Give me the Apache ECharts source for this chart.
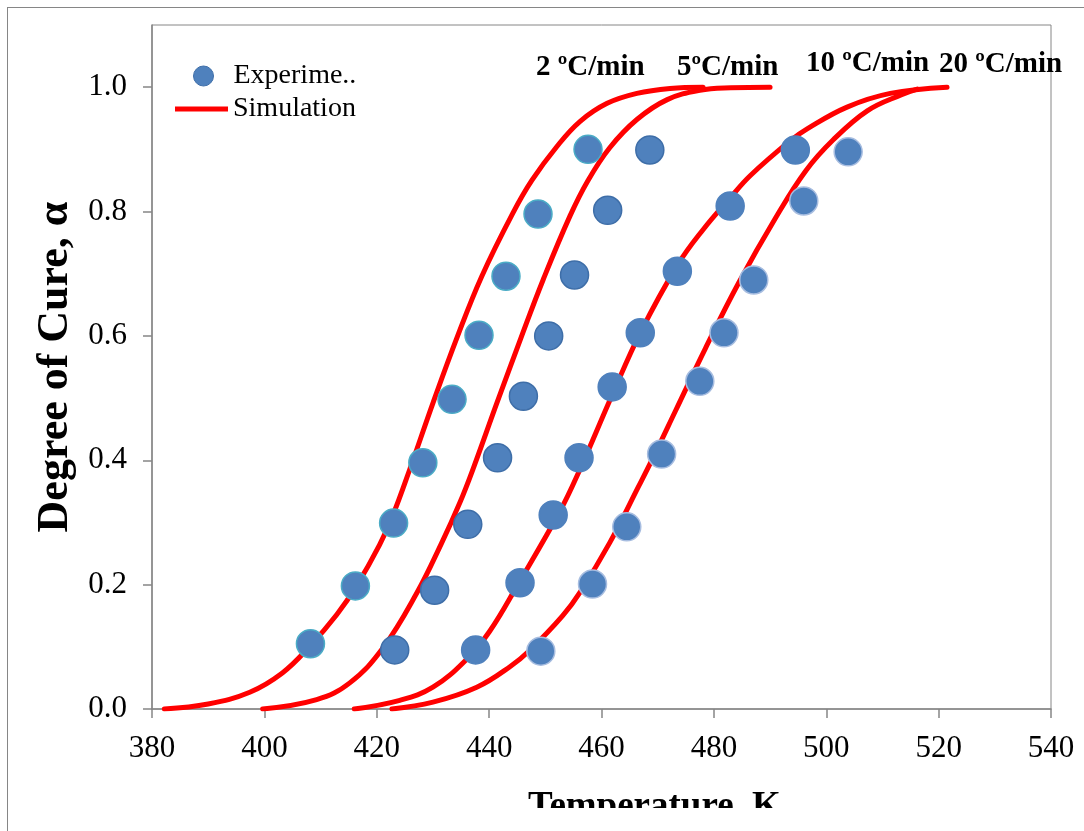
<!DOCTYPE html>
<html>
<head>
<meta charset="utf-8">
<script src="https://cdn.jsdelivr.net/npm/echarts@6/dist/echarts.min.js"></script>
<style>
  html, body { margin: 0; padding: 0; background: #ffffff; }
  #wrap { position: relative; width: 1084px; height: 831px; overflow: hidden; background: #ffffff; }
  #chart { position: absolute; left: 0; top: 0; width: 1084px; height: 808px; }
  #frame { position: absolute; left: 7px; top: 7px; width: 2000px; height: 2000px;
           border-left: 1px solid #868686; border-top: 1px solid #868686; pointer-events: none; }
</style>
</head>
<body>
<div id="wrap"><div id="chart"></div><div id="frame"></div></div>
<script>
// ---------- data ----------
var rateLabels = ['2 ºC/min', '5ºC/min', '10 ºC/min', '20 ºC/min'];
var xTicks = [380, 400, 420, 440, 460, 480, 500, 520, 540];
var yTicks = [0.0, 0.2, 0.4, 0.6, 0.8, 1.0];

// experimental points
var expT2  = [408.2, 416.2, 423.0, 428.2, 433.4, 438.2, 443.0, 448.7, 457.6];
var expA2  = [0.105, 0.198, 0.299, 0.396, 0.498, 0.601, 0.696, 0.796, 0.900];
var expT5  = [423.2, 430.3, 436.2, 441.5, 446.1, 450.6, 455.2, 461.1, 468.6];
var expA5  = [0.095, 0.191, 0.297, 0.404, 0.503, 0.600, 0.698, 0.802, 0.899];
var expT10 = [437.6, 445.5, 451.4, 456.0, 461.9, 466.9, 473.5, 482.9, 494.5];
var expA10 = [0.095, 0.203, 0.312, 0.404, 0.518, 0.605, 0.704, 0.809, 0.899];
var expT20 = [449.2, 458.4, 464.5, 470.7, 477.5, 481.8, 487.1, 496.0, 503.9];
var expA20 = [0.093, 0.201, 0.293, 0.410, 0.527, 0.605, 0.690, 0.817, 0.896];

// simulation curves
var simT2  = [382.2, 390.0, 397.4, 403.2, 408.0, 412.9, 416.4, 420.5, 422.8, 425.9, 430.0, 434.4, 438.7, 444.2, 447.6, 452.1, 456.2, 461.0, 466.3, 472.2, 478.1];
var simA2  = [0.000, 0.008, 0.027, 0.058, 0.100, 0.152, 0.198, 0.264, 0.310, 0.386, 0.492, 0.600, 0.696, 0.797, 0.850, 0.905, 0.945, 0.974, 0.990, 0.998, 1.000];
var simT5  = [399.7, 409.3, 415.2, 421.1, 427.1, 431.5, 434.8, 437.1, 441.5, 445.8, 449.6, 454.4, 457.6, 461.5, 466.3, 471.7, 477.5, 483.0, 490.0];
var simA5  = [0.000, 0.015, 0.042, 0.098, 0.186, 0.266, 0.332, 0.385, 0.495, 0.600, 0.690, 0.793, 0.850, 0.903, 0.948, 0.980, 0.995, 0.999, 1.000];
var simT10 = [416.0, 424.1, 430.0, 436.0, 440.1, 445.1, 452.6, 456.0, 461.9, 466.9, 473.6, 478.0, 482.9, 486.5, 493.6, 496.6, 503.7, 511.4, 521.5];
var simA10 = [0.000, 0.014, 0.035, 0.080, 0.125, 0.200, 0.318, 0.382, 0.505, 0.605, 0.715, 0.770, 0.822, 0.858, 0.914, 0.933, 0.968, 0.990, 1.000];
var simT20 = [422.7, 430.0, 437.8, 443.7, 447.3, 453.1, 456.2, 461.5, 466.6, 469.6, 473.2, 478.5, 484.4, 491.0, 496.4, 501.2, 507.3, 513.4, 516.2];
var simA20 = [0.000, 0.011, 0.035, 0.068, 0.095, 0.150, 0.188, 0.268, 0.358, 0.412, 0.480, 0.580, 0.685, 0.790, 0.866, 0.915, 0.962, 0.988, 0.997];

// ---------- build ----------
function zip(a, b) { return a.map(function (v, i) { return [v, b[i]]; }); }
var FONT = "'Liberation Serif', 'Times New Roman', serif";
var GRAY = '#868686';

var expSets = [[expT2, expA2, '#4bacc6'], [expT5, expA5, '#3e6ea8'], [expT10, expA10, '#4f81bd'], [expT20, expA20, '#a7bde0']];
var simSets = [[simT2, simA2], [simT5, simA5], [simT10, simA10], [simT20, simA20]];

var series = [];
simSets.forEach(function (s) {
  series.push({
    name: 'Simulation', type: 'line', data: zip(s[0], s[1]),
    smooth: 0.4, symbol: 'none', z: 2,
    lineStyle: { color: '#ff0000', width: 5, cap: 'round' },
    itemStyle: { color: '#ff0000' }
  });
});
expSets.forEach(function (s) {
  series.push({
    name: 'Experiments', type: 'scatter', data: zip(s[0], s[1]),
    symbol: 'circle', symbolSize: 28, z: 5,
    itemStyle: { color: '#4f81bd', opacity: 1, borderColor: s[2], borderWidth: 1.5 }
  });
});

var rateGraphics = [
  { x: 536, y: 79 }, { x: 677, y: 79 }, { x: 806, y: 75 }, { x: 939, y: 76 }
].map(function (p, i) {
  return {
    type: 'text', left: p.x, top: p.y - 26, z: 10,
    style: { text: rateLabels[i], font: 'bold 29px ' + FONT, fill: '#000' }
  };
});

var chart = echarts.init(document.getElementById('chart'));
chart.setOption({
  backgroundColor: 'transparent',
  animation: false,
  grid: {
    left: 152, right: 33, top: 25, bottom: 99, outerBoundsMode: 'none',
    show: true, borderColor: GRAY, borderWidth: 1, backgroundColor: 'transparent'
  },
  legend: [
    {
      data: [{ name: 'Experiments', icon: 'circle', itemStyle: { color: '#4f81bd', borderColor: '#3e6ea8', borderWidth: 1 } }],
      left: 188, top: 57, itemWidth: 20, itemHeight: 20, itemGap: 0,
      formatter: function (n) { return n.slice(0, 8) + '..'; },
      textStyle: { fontFamily: FONT, fontSize: 28, color: '#000', padding: [0, 0, 0, 15] }
    },
    {
      data: [{ name: 'Simulation', icon: 'rect', itemStyle: { color: '#ff0000' } }],
      left: 170, top: 90, itemWidth: 53, itemHeight: 5,
      textStyle: { fontFamily: FONT, fontSize: 28, color: '#000' }
    }
  ],
  xAxis: {
    type: 'value', min: xTicks[0], max: xTicks[xTicks.length - 1], interval: 20,
    name: 'Temperature, K', nameLocation: 'middle', nameGap: 80,
    nameTextStyle: { fontFamily: FONT, fontSize: 37, fontWeight: 'bold', color: '#000', padding: [0, 0, 0, 106] },
    axisLine: { show: true, onZero: false, lineStyle: { color: GRAY, width: 1.5 } },
    axisTick: { show: true, inside: false, length: 9, lineStyle: { color: GRAY, width: 1.5 } },
    axisLabel: { fontFamily: FONT, fontSize: 31, color: '#000', margin: 24 },
    splitLine: { show: false }
  },
  yAxis: {
    type: 'value', min: 0, max: 1.1, interval: 0.2,
    name: 'Degree of Cure, α', nameLocation: 'middle', nameGap: 73, nameRotate: 90,
    nameTextStyle: { fontFamily: FONT, fontSize: 44, fontWeight: 'bold', color: '#000' },
    axisLine: { show: true, lineStyle: { color: GRAY, width: 1.5 } },
    axisTick: { show: true, inside: false, length: 9, lineStyle: { color: GRAY, width: 1.5 } },
    axisLabel: {
      fontFamily: FONT, fontSize: 31, color: '#000', margin: 25, showMaxLabel: false,
      formatter: function (v) { return v > 1.05 ? '' : v.toFixed(1); }
    },
    splitLine: { show: false }
  },
  graphic: rateGraphics,
  series: series
});
</script>
</body>
</html>
